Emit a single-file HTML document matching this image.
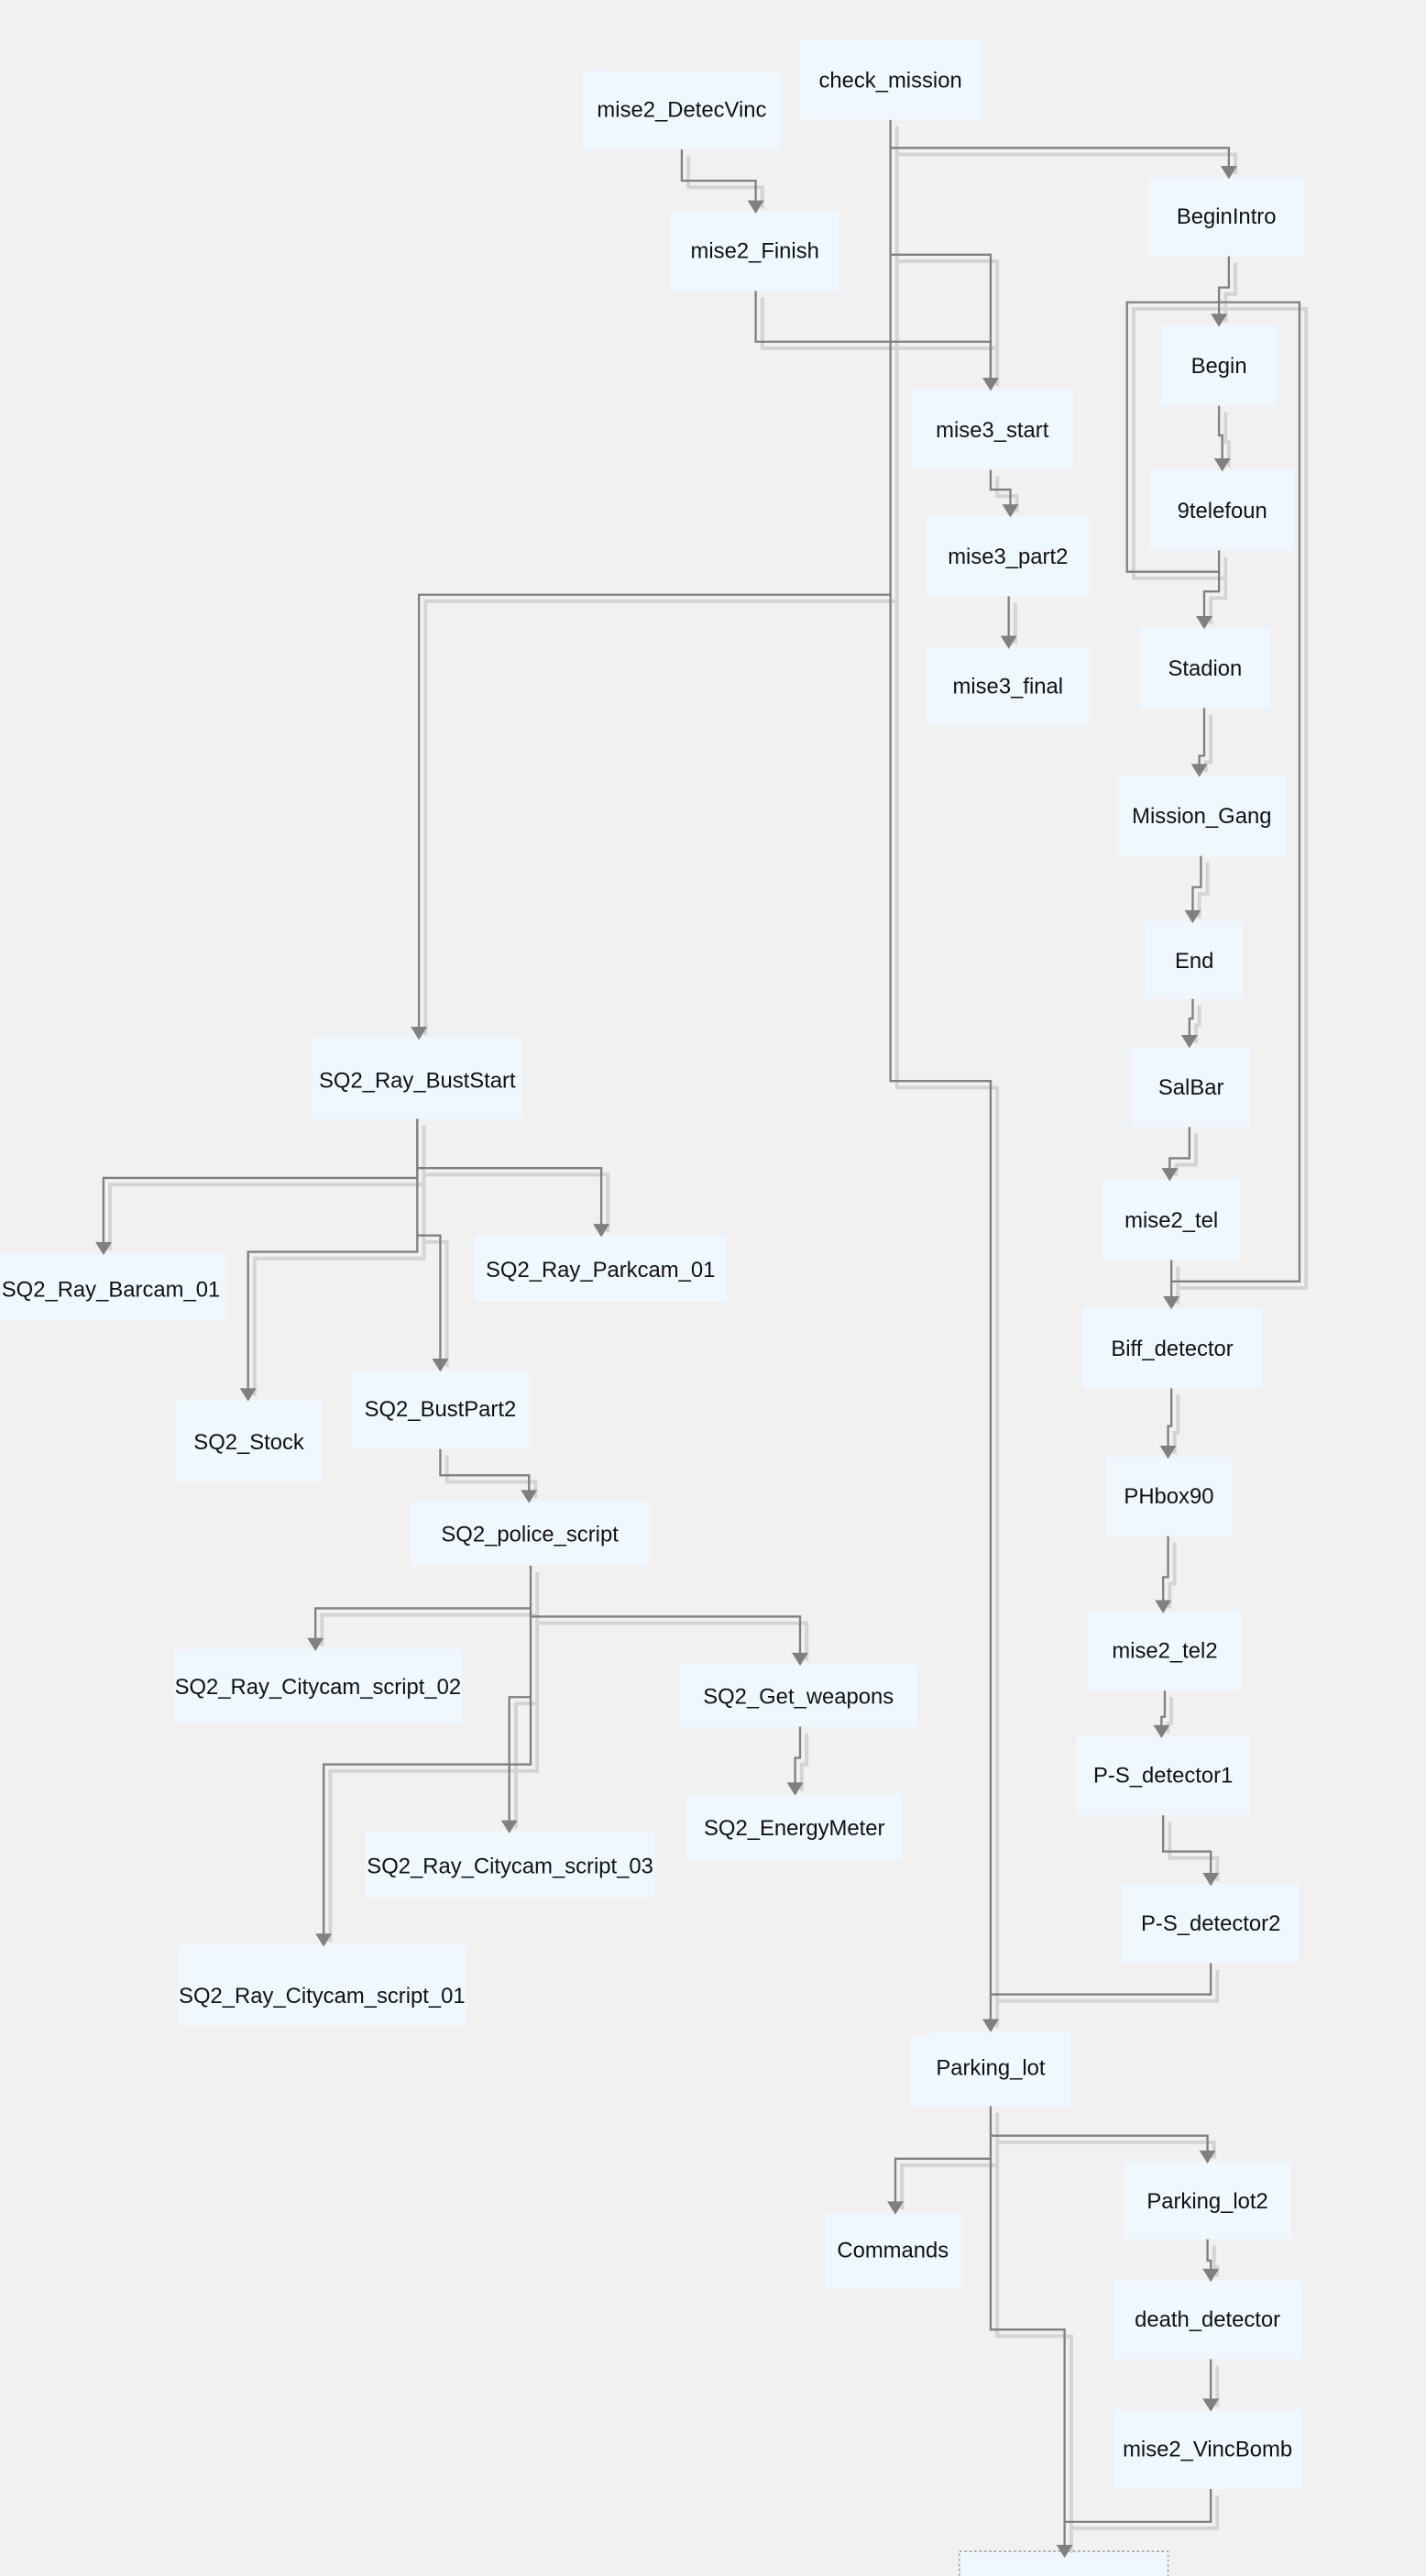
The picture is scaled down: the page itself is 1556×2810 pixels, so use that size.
<!DOCTYPE html>
<html><head><meta charset="utf-8"><style>
html,body{margin:0;padding:0;background:#f1f1f1;}
svg{display:block}
text{font-family:"Liberation Sans",sans-serif;font-size:13.3px;fill:#111;text-anchor:middle;dominant-baseline:central}
.n{fill:#f0f8ff}
.s{fill:none;stroke:#d4d4d4;stroke-width:2.2}
.l{fill:none;stroke:#808080;stroke-width:1.3}
</style></head><body>
<svg width="1556" height="2810" viewBox="0 0 868 1568" preserveAspectRatio="none" xmlns="http://www.w3.org/2000/svg">
<rect width="868" height="1568" fill="#f1f1f1"/>

<g>
<rect class="n" x="487" y="24" width="110" height="49"/><text x="542" y="49">check_mission</text>
<rect class="n" x="355" y="43" width="120" height="48"/><text x="415" y="67">mise2_DetecVinc</text>
<rect class="n" x="408" y="129" width="103" height="48"/><text x="459.5" y="153">mise2_Finish</text>
<rect class="n" x="699" y="108" width="95" height="48"/><text x="746.5" y="132">BeginIntro</text>
<rect class="n" x="707" y="198" width="70" height="49"/><text x="742" y="223">Begin</text>
<rect class="n" x="700" y="286" width="88" height="49"/><text x="744" y="311">9telefoun</text>
<rect class="n" x="555" y="237" width="98" height="49"/><text x="604" y="262">mise3_start</text>
<rect class="n" x="564" y="314" width="99" height="49"/><text x="613.5" y="339">mise3_part2</text>
<rect class="n" x="564" y="394" width="99" height="48"/><text x="613.5" y="418">mise3_final</text>
<rect class="n" x="694" y="382" width="79" height="49"/><text x="733.5" y="407">Stadion</text>
<rect class="n" x="680" y="472" width="103" height="49"/><text x="731.5" y="497">Mission_Gang</text>
<rect class="n" x="697" y="561" width="60" height="47"/><text x="727" y="585">End</text>
<rect class="n" x="689" y="637" width="72" height="49"/><text x="725" y="662">SalBar</text>
<rect class="n" x="671" y="718" width="84" height="49"/><text x="713" y="743">mise2_tel</text>
<rect class="n" x="659" y="796" width="109" height="49"/><text x="713.5" y="821">Biff_detector</text>
<rect class="n" x="673" y="887" width="77" height="48"/><text x="711.5" y="911">PHbox90</text>
<rect class="n" x="662" y="981" width="94" height="48"/><text x="709" y="1005">mise2_tel2</text>
<rect class="n" x="655" y="1057" width="106" height="48"/><text x="708" y="1081">P-S_detector1</text>
<rect class="n" x="683" y="1147" width="108" height="48"/><text x="737" y="1171">P-S_detector2</text>
<rect class="n" x="554" y="1240" width="98" height="42"/><rect class="n" x="566" y="1236" width="86" height="6"/><text x="603" y="1259">Parking_lot</text>
<rect class="n" x="502" y="1347" width="83" height="46"/><text x="543.5" y="1370">Commands</text>
<rect class="n" x="684" y="1316" width="102" height="47"/><text x="735" y="1340">Parking_lot2</text>
<rect class="n" x="678" y="1388" width="114" height="48"/><text x="735" y="1412">death_detector</text>
<rect class="n" x="678" y="1467" width="114" height="48"/><text x="735" y="1491">mise2_VincBomb</text>
<rect x="584" y="1553" width="127" height="20" fill="#f0f8ff" stroke="#999" stroke-width="0.8" stroke-dasharray="1.5,1.5"/>

<rect class="n" x="190" y="632" width="128" height="49"/><text x="254" y="658">SQ2_Ray_BustStart</text>
<rect class="n" x="0" y="763" width="137" height="41"/><text x="1" y="785" style="text-anchor:start">SQ2_Ray_Barcam_01</text>
<rect class="n" x="289" y="752" width="153" height="40"/><text x="365.5" y="773">SQ2_Ray_Parkcam_01</text>
<rect class="n" x="107" y="852" width="89" height="50"/><text x="151.5" y="878">SQ2_Stock</text>
<rect class="n" x="214" y="834" width="108" height="48"/><text x="268" y="858">SQ2_BustPart2</text>
<rect class="n" x="250" y="914" width="145" height="39"/><text x="322.5" y="934">SQ2_police_script</text>
<rect class="n" x="106" y="1004" width="175" height="45"/><text x="193.5" y="1027">SQ2_Ray_Citycam_script_02</text>
<rect class="n" x="414" y="1013" width="144" height="38"/><text x="486" y="1033">SQ2_Get_weapons</text>
<rect class="n" x="418" y="1092" width="131" height="40"/><text x="483.5" y="1113">SQ2_EnergyMeter</text>
<rect class="n" x="222" y="1115" width="177" height="40"/><text x="310.5" y="1136">SQ2_Ray_Citycam_script_03</text>
<rect class="n" x="108" y="1184" width="176" height="49"/><text x="196" y="1215">SQ2_Ray_Citycam_script_01</text>
</g>

<g transform="translate(4,4)">
<polyline class="s" points="542,73 542,658 603,658 603,1230"/>
<polyline class="s" points="542,90 748,90 748,102"/>
<polyline class="s" points="542,155 603,155 603,231"/>
<polyline class="s" points="542,362 255,362 255,626"/>
<polyline class="s" points="415,91 415,110 460,110 460,123"/>
<polyline class="s" points="460,177 460,208 603,208 603,231"/>
<polyline class="s" points="748,156 748,175 742,175 742,192"/>
<polyline class="s" points="742,335 742,348 686,348 686,184 791,184 791,780 713,780"/>
<polyline class="s" points="742,247 742,265 744,265 744,280"/>
<polyline class="s" points="742,348 742,360 733,360 733,376"/>
<polyline class="s" points="733,431 733,460 730,460 730,466"/>
<polyline class="s" points="731,521 731,540 726,540 726,555"/>
<polyline class="s" points="726,608 726,620 724,620 724,631"/>
<polyline class="s" points="724,686 724,705 712,705 712,712"/>
<polyline class="s" points="713,767 713,790"/>
<polyline class="s" points="713,845 713,868 711,868 711,881"/>
<polyline class="s" points="711,935 711,960 708,960 708,975"/>
<polyline class="s" points="709,1029 709,1045 707,1045 707,1051"/>
<polyline class="s" points="708,1105 708,1127 737,1127 737,1141"/>
<polyline class="s" points="737,1195 737,1214 603,1214"/>
<polyline class="s" points="603,1282 603,1418 648,1418 648,1550"/>
<polyline class="s" points="603,1300 735,1300 735,1310"/>
<polyline class="s" points="603,1314 545,1314 545,1341"/>
<polyline class="s" points="735,1363 735,1376 737,1376 737,1382"/>
<polyline class="s" points="737,1436 737,1461"/>
<polyline class="s" points="737,1515 737,1535 648,1535"/>
<polyline class="s" points="603,286 603,298 615,298 615,308"/>
<polyline class="s" points="614,363 614,388"/>
<polyline class="s" points="254,681 254,717 63,717 63,757"/>
<polyline class="s" points="254,711 366,711 366,746"/>
<polyline class="s" points="254,681 254,762 151,762 151,846"/>
<polyline class="s" points="254,752 268,752 268,828"/>
<polyline class="s" points="268,882 268,898 322,898 322,908"/>
<polyline class="s" points="323,953 323,1074 197,1074 197,1178"/>
<polyline class="s" points="323,979 192,979 192,998"/>
<polyline class="s" points="323,984 487,984 487,1007"/>
<polyline class="s" points="323,1033 310,1033 310,1109"/>
<polyline class="s" points="487,1051 487,1070 484,1070 484,1086"/>
</g>

<g>
<polyline class="l" points="542,73 542,658 603,658 603,1230"/>
<polyline class="l" points="542,90 748,90 748,102"/>
<polyline class="l" points="542,155 603,155 603,231"/>
<polyline class="l" points="542,362 255,362 255,626"/>
<polyline class="l" points="415,91 415,110 460,110 460,123"/>
<polyline class="l" points="460,177 460,208 603,208 603,231"/>
<polyline class="l" points="748,156 748,175 742,175 742,192"/>
<polyline class="l" points="742,335 742,348 686,348 686,184 791,184 791,780 713,780"/>
<polyline class="l" points="742,247 742,265 744,265 744,280"/>
<polyline class="l" points="742,348 742,360 733,360 733,376"/>
<polyline class="l" points="733,431 733,460 730,460 730,466"/>
<polyline class="l" points="731,521 731,540 726,540 726,555"/>
<polyline class="l" points="726,608 726,620 724,620 724,631"/>
<polyline class="l" points="724,686 724,705 712,705 712,712"/>
<polyline class="l" points="713,767 713,790"/>
<polyline class="l" points="713,845 713,868 711,868 711,881"/>
<polyline class="l" points="711,935 711,960 708,960 708,975"/>
<polyline class="l" points="709,1029 709,1045 707,1045 707,1051"/>
<polyline class="l" points="708,1105 708,1127 737,1127 737,1141"/>
<polyline class="l" points="737,1195 737,1214 603,1214"/>
<polyline class="l" points="603,1282 603,1418 648,1418 648,1550"/>
<polyline class="l" points="603,1300 735,1300 735,1310"/>
<polyline class="l" points="603,1314 545,1314 545,1341"/>
<polyline class="l" points="735,1363 735,1376 737,1376 737,1382"/>
<polyline class="l" points="737,1436 737,1461"/>
<polyline class="l" points="737,1515 737,1535 648,1535"/>
<polyline class="l" points="603,286 603,298 615,298 615,308"/>
<polyline class="l" points="614,363 614,388"/>
<polyline class="l" points="254,681 254,717 63,717 63,757"/>
<polyline class="l" points="254,711 366,711 366,746"/>
<polyline class="l" points="254,681 254,762 151,762 151,846"/>
<polyline class="l" points="254,752 268,752 268,828"/>
<polyline class="l" points="268,882 268,898 322,898 322,908"/>
<polyline class="l" points="323,953 323,1074 197,1074 197,1178"/>
<polyline class="l" points="323,979 192,979 192,998"/>
<polyline class="l" points="323,984 487,984 487,1007"/>
<polyline class="l" points="323,1033 310,1033 310,1109"/>
<polyline class="l" points="487,1051 487,1070 484,1070 484,1086"/>
</g>

<g fill="#808080">
<path d="M598,1229 L608,1229 L603,1237 Z"/>
<path d="M743,101 L753,101 L748,109 Z"/>
<path d="M598,230 L608,230 L603,238 Z"/>
<path d="M250,625 L260,625 L255,633 Z"/>
<path d="M455,122 L465,122 L460,130 Z"/>
<path d="M737,191 L747,191 L742,199 Z"/>
<path d="M739,279 L749,279 L744,287 Z"/>
<path d="M728,375 L738,375 L733,383 Z"/>
<path d="M725,465 L735,465 L730,473 Z"/>
<path d="M721,554 L731,554 L726,562 Z"/>
<path d="M719,630 L729,630 L724,638 Z"/>
<path d="M707,711 L717,711 L712,719 Z"/>
<path d="M708,789 L718,789 L713,797 Z"/>
<path d="M706,880 L716,880 L711,888 Z"/>
<path d="M703,974 L713,974 L708,982 Z"/>
<path d="M702,1050 L712,1050 L707,1058 Z"/>
<path d="M732,1140 L742,1140 L737,1148 Z"/>
<path d="M643,1549 L653,1549 L648,1557 Z"/>
<path d="M730,1309 L740,1309 L735,1317 Z"/>
<path d="M540,1340 L550,1340 L545,1348 Z"/>
<path d="M732,1381 L742,1381 L737,1389 Z"/>
<path d="M732,1460 L742,1460 L737,1468 Z"/>
<path d="M610,307 L620,307 L615,315 Z"/>
<path d="M609,387 L619,387 L614,395 Z"/>
<path d="M58,756 L68,756 L63,764 Z"/>
<path d="M361,745 L371,745 L366,753 Z"/>
<path d="M146,845 L156,845 L151,853 Z"/>
<path d="M263,827 L273,827 L268,835 Z"/>
<path d="M317,907 L327,907 L322,915 Z"/>
<path d="M192,1177 L202,1177 L197,1185 Z"/>
<path d="M187,997 L197,997 L192,1005 Z"/>
<path d="M482,1006 L492,1006 L487,1014 Z"/>
<path d="M305,1108 L315,1108 L310,1116 Z"/>
<path d="M479,1085 L489,1085 L484,1093 Z"/>
</g>
</svg>
</body></html>
